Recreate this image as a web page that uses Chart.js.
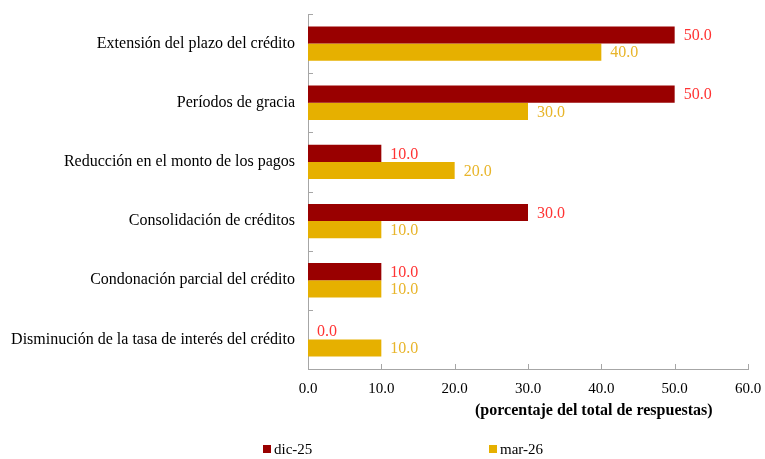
<!DOCTYPE html>
<html>
<head>
<meta charset="utf-8">
<script src="https://cdn.jsdelivr.net/npm/chart.js@4/dist/chart.umd.min.js"></script>
<style>
  body { margin: 0; background: #fff; }
  #wrap { position: relative; width: 765px; height: 459px; font-family: "Liberation Serif", "Times New Roman", serif; }
  #ejeTitulo { position: absolute; left: 475px; top: 401px; font-size: 16px; font-weight: bold; color: #000; white-space: nowrap; }
  .leyenda { position: absolute; top: 441px; font-size: 15px; color: #000; white-space: nowrap; }
  .leyenda span { display: inline-block; width: 8px; height: 8px; margin-right: 3px; vertical-align: 1px; }
</style>
</head>
<body>
<div id="wrap">
  <canvas id="chart" width="765" height="459"></canvas>
  <div id="ejeTitulo">(porcentaje del total de respuestas)</div>
  <div class="leyenda" style="left:263px"><span style="background:#990000"></span>dic-25</div>
  <div class="leyenda" style="left:489px"><span style="background:#E6B000"></span>mar-26</div>
</div>
<script>
// --- Datos ---
const categorias = [
    'Extensión del plazo del crédito',
    'Períodos de gracia',
    'Reducción en el monto de los pagos',
    'Consolidación de créditos',
    'Condonación parcial del crédito',
    'Disminución de la tasa de interés del crédito'
];
const serieDic25 = [50, 50, 10, 30, 10, 0];
const serieMar26 = [40, 30, 20, 10, 10, 10];
const nombresSeries = ['dic-25', 'mar-26'];

const colorRojo = '#990000';
const colorOro = '#E6B000';
const colorEtiquetas = ['#FF3333', '#E8B52A'];
const fuente = '"Liberation Serif", "Times New Roman", serif';

// Etiquetas de valor al final de cada barra
const etiquetasValor = {
    id: 'etiquetasValor',
    afterDatasetsDraw(chart) {
        const ctx = chart.ctx;
        ctx.save();
        ctx.font = '16px ' + fuente;
        ctx.textAlign = 'left';
        ctx.textBaseline = 'middle';
        chart.data.datasets.forEach((ds, i) => {
            const meta = chart.getDatasetMeta(i);
            meta.data.forEach((bar, j) => {
                ctx.fillStyle = colorEtiquetas[i];
                ctx.fillText(ds.data[j].toFixed(1), bar.x + 9, bar.y + 1);
            });
        });
        ctx.restore();
    }
};

// Marcas de graduación hacia adentro
const marcasEje = {
    id: 'marcasEje',
    afterDraw(chart) {
        const ctx = chart.ctx;
        const area = chart.chartArea;
        const x = chart.scales.x;
        const y = chart.scales.y;
        ctx.save();
        ctx.strokeStyle = '#A6A6A6';
        ctx.lineWidth = 1;
        ctx.beginPath();
        x.ticks.forEach(t => {
            const px = Math.round(x.getPixelForValue(t.value)) + 0.5;
            ctx.moveTo(px, area.bottom);
            ctx.lineTo(px, area.bottom - 5);
        });
        for (let k = 0; k < categorias.length; k++) {
            const py = Math.round(y.getPixelForValue(k - 0.5)) + 0.5;
            ctx.moveTo(area.left, py);
            ctx.lineTo(area.left + 5, py);
        }
        ctx.stroke();
        ctx.restore();
    }
};

new Chart(document.getElementById('chart'), {
    type: 'bar',
    data: {
        labels: categorias,
        datasets: [{
            label: nombresSeries[0],
            data: serieDic25,
            backgroundColor: colorRojo,
            borderWidth: 0,
            barPercentage: 1,
            categoryPercentage: 0.58
        }, {
            label: nombresSeries[1],
            data: serieMar26,
            backgroundColor: colorOro,
            borderWidth: 0,
            barPercentage: 1,
            categoryPercentage: 0.58
        }]
    },
    options: {
        indexAxis: 'y',
        responsive: false,
        animation: false,
        layout: { padding: { left: 8, top: 14, right: 17, bottom: 50 } },
        scales: {
            x: {
                min: 0,
                max: 60,
                afterFit: (scale) => { scale.paddingLeft = 0; scale.paddingRight = 0; },
                ticks: {
                    stepSize: 10,
                    padding: 11,
                    color: '#000',
                    font: { family: fuente, size: 15 },
                    callback: (v) => Number(v).toFixed(1)
                },
                grid: { display: false, drawTicks: false },
                border: { display: true, color: '#A6A6A6', width: 1 }
            },
            y: {
                afterFit: (scale) => { scale.width = 300; scale.paddingTop = 0; scale.paddingBottom = 0; },
                ticks: {
                    padding: 13,
                    color: '#000',
                    font: { family: fuente, size: 16 }
                },
                grid: { display: false, drawTicks: false },
                border: { display: true, color: '#A6A6A6', width: 1 }
            }
        },
        plugins: {
            legend: { display: false },
            tooltip: { enabled: false }
        }
    },
    plugins: [etiquetasValor, marcasEje]
});
</script>
</body>
</html>
